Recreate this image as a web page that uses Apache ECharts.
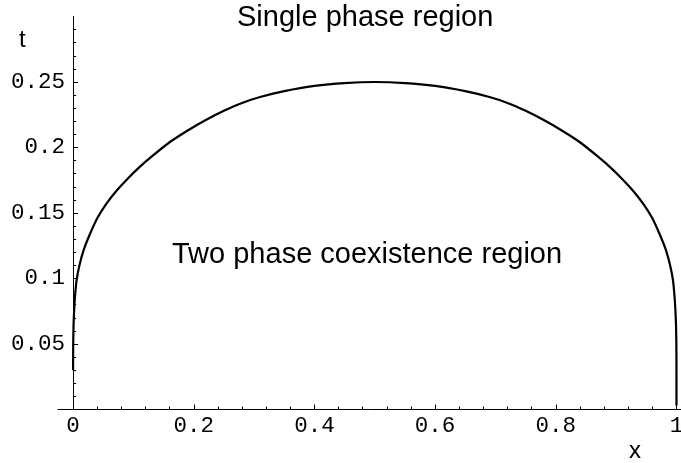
<!DOCTYPE html>
<html>
<head>
<meta charset="utf-8">
<script src="https://cdn.jsdelivr.net/npm/echarts@6/dist/echarts.min.js"></script>
<style>
html,body{margin:0;padding:0;background:#fff;}
#chart{width:681px;height:463px;}
</style>
</head>
<body>
<div id="chart"></div>
<script>
// Coexistence curve (x = composition, t = temperature)
var curveX = [0, 0.0002, 0.0008, 0.0017, 0.003, 0.0056, 0.01, 0.0177, 0.028, 0.04, 0.055, 0.072, 0.09, 0.11, 0.13, 0.16, 0.19, 0.22, 0.25, 0.28, 0.31, 0.35, 0.40, 0.45, 0.50,
              0.55, 0.60, 0.65, 0.69, 0.72, 0.75, 0.78, 0.81, 0.84, 0.87, 0.89, 0.91, 0.928, 0.945, 0.96, 0.972, 0.9823, 0.99, 0.9944, 0.997, 0.9983, 0.9992, 0.9998, 1.0, 1.0];
var curveT = [0.030, 0.050, 0.065, 0.075, 0.085, 0.098, 0.109, 0.122, 0.134, 0.146, 0.157, 0.167, 0.176, 0.185, 0.193, 0.204, 0.213, 0.221, 0.228, 0.234, 0.2385, 0.243, 0.247, 0.2492, 0.250,
              0.2492, 0.247, 0.243, 0.2385, 0.234, 0.228, 0.221, 0.213, 0.204, 0.193, 0.185, 0.176, 0.167, 0.157, 0.146, 0.134, 0.122, 0.109, 0.098, 0.085, 0.075, 0.065, 0.050, 0.030, 0.003];

// Tick positions / labels
var xMajor = [0, 0.2, 0.4, 0.6, 0.8, 1];
var xMinor = [0.04, 0.08, 0.12, 0.16, 0.24, 0.28, 0.32, 0.36, 0.44, 0.48, 0.52, 0.56, 0.64, 0.68, 0.72, 0.76, 0.84, 0.88, 0.92, 0.96];
var yMajor = [0.05, 0.1, 0.15, 0.2, 0.25];
var yMinor = [0.01, 0.02, 0.03, 0.04, 0.06, 0.07, 0.08, 0.09, 0.11, 0.12, 0.13, 0.14, 0.16, 0.17, 0.18, 0.19, 0.21, 0.22, 0.23, 0.24, 0.26, 0.27, 0.28, 0.29];

var xRange = [-0.025, 1.0075];
var yRange = [0, 0.3];

var xAxisTitle = 'x';
var yAxisTitle = 't';
var upperRegionLabel = 'Single phase region';
var lowerRegionLabel = 'Two phase coexistence region';

var data = curveX.map(function (x, i) { return [x, curveT[i]]; });

var monoFont = "'Liberation Mono', 'Courier New', monospace";
var sansFont = "'Liberation Sans', Arial, sans-serif";

var chart = echarts.init(document.getElementById('chart'), null, {renderer: 'canvas'});
chart.setOption({
  animation: false,
  backgroundColor: '#fff',
  grid: {left: 58, right: 0, top: 16.5, bottom: 53.5, containLabel: false, outerBoundsMode: 'none'},
  xAxis: [{
    type: 'value', min: xRange[0], max: xRange[1], position: 'bottom',
    axisLine: {show: true, onZero: true, lineStyle: {color: '#000', width: 1}},
    axisTick: {show: true, inside: true, length: 5, customValues: xMajor, lineStyle: {color: '#000', width: 1}},
    axisLabel: {show: true, customValues: xMajor, margin: 5, color: '#000', fontFamily: monoFont, fontSize: 22.5},
    splitLine: {show: false}
  }, {
    type: 'value', min: xRange[0], max: xRange[1], position: 'bottom',
    axisLine: {show: false, onZero: true},
    axisTick: {show: true, inside: true, length: 3, customValues: xMinor, lineStyle: {color: '#000', width: 1}},
    axisLabel: {show: false},
    splitLine: {show: false}
  }],
  yAxis: [{
    type: 'value', min: yRange[0], max: yRange[1], position: 'left',
    axisLine: {show: true, onZero: true, lineStyle: {color: '#000', width: 1}},
    axisTick: {show: true, inside: true, length: 5, customValues: yMajor, lineStyle: {color: '#000', width: 1}},
    axisLabel: {show: true, customValues: yMajor, margin: -7, color: '#000', fontFamily: monoFont, fontSize: 22.5},
    splitLine: {show: false}
  }, {
    type: 'value', min: yRange[0], max: yRange[1], position: 'left',
    axisLine: {show: false, onZero: true},
    axisTick: {show: true, inside: true, length: 3, customValues: yMinor, lineStyle: {color: '#000', width: 1}},
    axisLabel: {show: false},
    splitLine: {show: false}
  }],
  series: [{
    type: 'line', xAxisIndex: 0, yAxisIndex: 0,
    data: data, showSymbol: false, smooth: 0.2,
    lineStyle: {color: '#000', width: 2.2},
    clip: false
  }],
  graphic: [
    {type: 'text', left: 19, top: 28, style: {text: yAxisTitle, font: '24px ' + sansFont, fill: '#000'}},
    {type: 'text', left: 629, top: 439, style: {text: xAxisTitle, font: '24px ' + sansFont, fill: '#000'}},
    {type: 'text', left: 237, top: 3, style: {text: upperRegionLabel, font: '29px ' + sansFont, fill: '#000'}},
    {type: 'text', left: 172, top: 240.5, style: {text: lowerRegionLabel, font: '29px ' + sansFont, fill: '#000'}}
  ]
});
</script>
</body>
</html>
